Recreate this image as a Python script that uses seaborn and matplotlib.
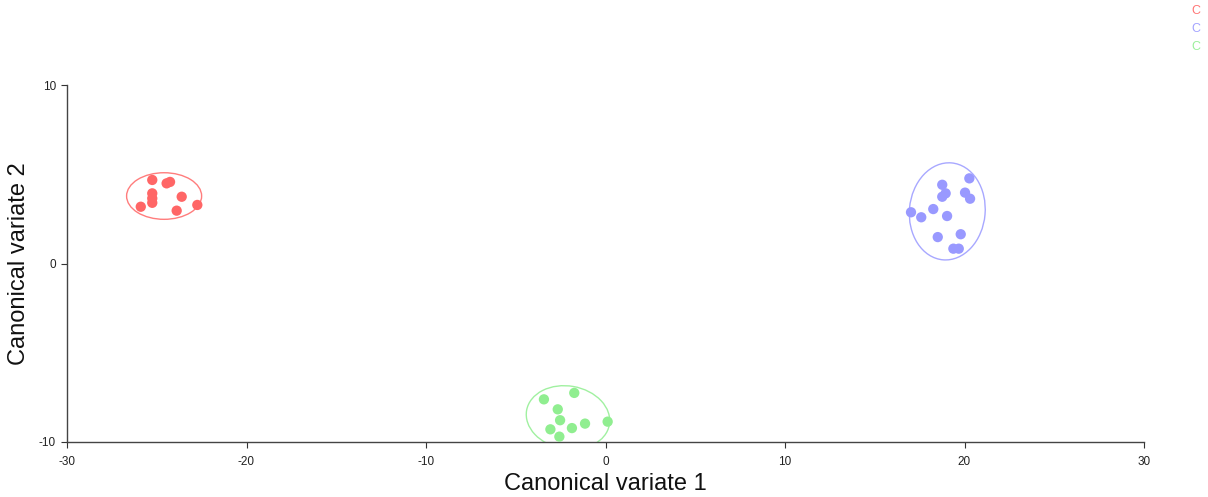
import numpy as np
import pandas as pd
import matplotlib
matplotlib.use("Agg")
import matplotlib.pyplot as plt
from matplotlib.patches import Ellipse
import seaborn as sns

groups = ["A", "B", "C"]
colors = ["#FF6666", "#9999FF", "#90EE90"]

a_x = [-25.25, -24.45, -24.26, -25.25, -25.25, -25.25, -23.61, -25.89, -23.89, -22.74]
a_y = [4.68, 4.49, 4.57, 3.93, 3.65, 3.40, 3.74, 3.18, 2.96, 3.28]

b_x = [18.76, 20.27, 18.95, 18.76, 20.03, 20.31, 17.02, 17.59, 18.26, 19.03, 19.79, 18.51, 19.38, 19.68]
b_y = [4.41, 4.77, 3.93, 3.74, 3.97, 3.63, 2.87, 2.59, 3.05, 2.66, 1.64, 1.48, 0.83, 0.83]

c_x = [-3.43, -1.74, -2.66, -2.53, -3.07, -2.57, -1.87, -1.14, 0.12]
c_y = [-7.61, -7.25, -8.17, -8.78, -9.29, -9.70, -9.22, -8.97, -8.86]

# ellipse parameters (center x, center y, width, height, angle)
ell_cx = [-24.59, 19.04, -2.09]
ell_cy = [3.78, 2.92, -8.63]
ell_w = [4.18, 4.22, 4.68]
ell_h = [2.61, 5.45, 3.53]
ell_ang = [0, -5, -10]

xticks = [-30, -20, -10, 0, 10, 20, 30]
yticks = [-10, 0, 10]

df = pd.DataFrame({
    "x": a_x + b_x + c_x,
    "y": a_y + b_y + c_y,
    "g": ["A"] * len(a_x) + ["B"] * len(b_x) + ["C"] * len(c_x),
})

sns.set_style("white")
plt.rcParams["font.family"] = ["Liberation Sans", "DejaVu Sans"]

fig = plt.figure(figsize=(12.08, 4.97), dpi=100)
ax = fig.add_axes([67 / 1208, 1 - 442 / 497, (1144 - 67) / 1208, (442 - 85) / 497])

sns.scatterplot(data=df, x="x", y="y", hue="g", palette=dict(zip(groups, colors)),
                s=55, edgecolor="none", linewidth=0, legend=False, ax=ax, zorder=3)

for i, g in enumerate(groups):
    e = Ellipse((ell_cx[i], ell_cy[i]), ell_w[i], ell_h[i], angle=ell_ang[i],
                fill=False, edgecolor=colors[i], alpha=0.85, lw=1.0, zorder=2)
    ax.add_patch(e)

ax.set_xlim(-30, 30)
ax.set_ylim(-10, 10)
ax.set_xticks(xticks)
ax.set_yticks(yticks)
ax.set_xticklabels([str(t) for t in xticks])
ax.set_yticklabels([str(t) for t in yticks])
ax.tick_params(axis="both", direction="out", length=4, width=0.8, color="#333333",
               labelsize=8.5, labelcolor="#222222", pad=4,
               bottom=True, left=True)
ax.tick_params(axis="x", pad=6)
for s in ["top", "right"]:
    ax.spines[s].set_visible(False)
for s in ["left", "bottom"]:
    ax.spines[s].set_color("#444444")
    ax.spines[s].set_linewidth(1.0)

ax.set_xlabel("Canonical variate 1", fontsize=17, color="#111111", labelpad=4)
ax.set_ylabel("Canonical variate 2", fontsize=17, color="#111111", labelpad=6)

for i, g in enumerate(groups):
    fig.text(1196 / 1208, 1 - (11 + 18 * i) / 497, "C", color=colors[i], alpha=0.9,
             fontsize=9, ha="center", va="center")

fig.savefig("out.png", dpi=100)
